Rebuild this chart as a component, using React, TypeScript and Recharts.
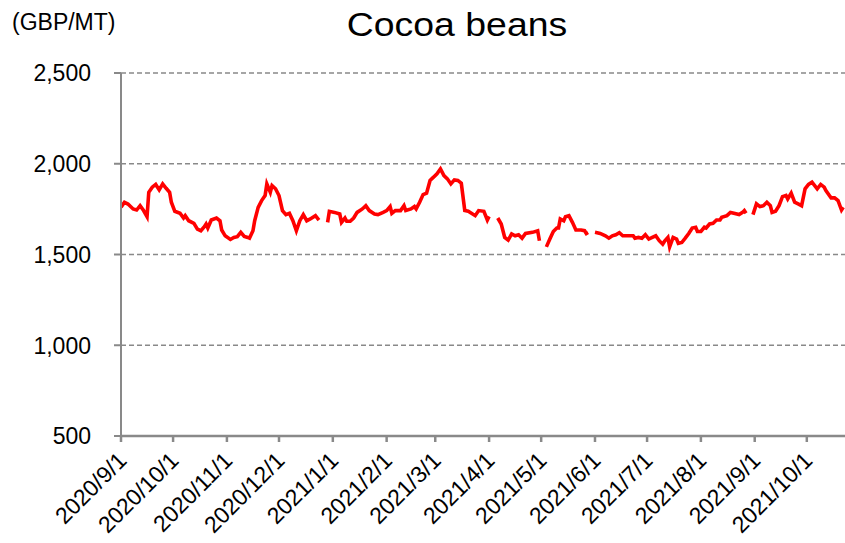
import { CartesianGrid, Line, LineChart, XAxis, YAxis } from "recharts";

const DAY_MS = 86400000;
const START_DATE = "2020-09-01";
const END_DATE = "2021-10-23";

// trading dates (null = holiday gap in the series)
const dates = [
  "2020-09-01", "2020-09-03", "2020-09-05", "2020-09-08", "2020-09-10", "2020-09-12", "2020-09-14", "2020-09-16",
  "2020-09-17", "2020-09-19", "2020-09-21", "2020-09-23", "2020-09-25", "2020-09-27", "2020-09-29", "2020-09-30",
  "2020-10-02", "2020-10-05", "2020-10-07", "2020-10-08", "2020-10-10", "2020-10-13", "2020-10-15", "2020-10-17",
  "2020-10-19", "2020-10-20", "2020-10-21", "2020-10-23", "2020-10-26", "2020-10-28", "2020-10-29", "2020-10-31",
  "2020-11-03", "2020-11-05", "2020-11-07", "2020-11-09", "2020-11-11", "2020-11-13", "2020-11-14", "2020-11-16",
  "2020-11-17", "2020-11-19", "2020-11-21", "2020-11-23", "2020-11-24", "2020-11-26", "2020-11-27", "2020-11-29",
  "2020-12-01", "2020-12-03", "2020-12-05", "2020-12-07", "2020-12-09", "2020-12-11", "2020-12-13", "2020-12-15",
  "2020-12-17", "2020-12-19", "2020-12-22", "2020-12-24", "2020-12-26", "2020-12-29", "2020-12-30", "2021-01-02",
  "2021-01-05", "2021-01-06", "2021-01-08", "2021-01-09", "2021-01-11", "2021-01-13", "2021-01-15", "2021-01-18",
  "2021-01-20", "2021-01-22", "2021-01-25", "2021-01-27", "2021-01-30", "2021-02-01", "2021-02-03", "2021-02-04",
  "2021-02-06", "2021-02-09", "2021-02-11", "2021-02-12", "2021-02-15", "2021-02-17", "2021-02-18", "2021-02-20",
  "2021-02-22", "2021-02-24", "2021-02-26", "2021-02-28", "2021-03-02", "2021-03-04", "2021-03-06", "2021-03-08",
  "2021-03-10", "2021-03-12", "2021-03-14", "2021-03-16", "2021-03-18", "2021-03-20", "2021-03-24", "2021-03-26",
  "2021-03-29", "2021-03-31", "2021-04-01", "2021-04-03", "2021-04-06", "2021-04-08", "2021-04-10", "2021-04-12",
  "2021-04-14", "2021-04-16", "2021-04-18", "2021-04-20", "2021-04-22", "2021-04-26", "2021-04-29", "2021-04-30",
  "2021-05-02", "2021-05-04", "2021-05-06", "2021-05-08", "2021-05-10", "2021-05-11", "2021-05-12", "2021-05-14",
  "2021-05-15", "2021-05-17", "2021-05-19", "2021-05-21", "2021-05-24", "2021-05-26", "2021-05-27", "2021-05-28",
  "2021-05-30", "2021-06-01", "2021-06-04", "2021-06-07", "2021-06-09", "2021-06-11", "2021-06-13", "2021-06-15",
  "2021-06-17", "2021-06-20", "2021-06-23", "2021-06-24", "2021-06-26", "2021-06-28", "2021-06-30", "2021-07-02",
  "2021-07-04", "2021-07-06", "2021-07-08", "2021-07-10", "2021-07-11", "2021-07-13", "2021-07-14", "2021-07-16",
  "2021-07-18", "2021-07-19", "2021-07-21", "2021-07-23", "2021-07-25", "2021-07-27", "2021-07-29", "2021-07-30",
  "2021-08-01", "2021-08-03", "2021-08-04", "2021-08-06", "2021-08-08", "2021-08-10", "2021-08-12", "2021-08-13",
  "2021-08-16", "2021-08-18", "2021-08-20", "2021-08-23", "2021-08-25", "2021-08-26", "2021-08-27", "2021-08-29",
  "2021-08-31", "2021-09-02", "2021-09-04", "2021-09-06", "2021-09-08", "2021-09-10", "2021-09-11", "2021-09-13",
  "2021-09-15", "2021-09-17", "2021-09-19", "2021-09-20", "2021-09-22", "2021-09-24", "2021-09-26", "2021-09-28",
  "2021-09-30", "2021-10-02", "2021-10-04", "2021-10-07", "2021-10-09", "2021-10-11", "2021-10-12", "2021-10-14",
  "2021-10-15", "2021-10-17", "2021-10-19", "2021-10-21", "2021-10-22",
];

// GBP per metric tonne
const prices: (number | null)[] = [
  1760, 1788, 1778, 1751, 1745, 1769, 1742, 1708,
  1843, 1871, 1886, 1856, 1889, 1865, 1843, 1788,
  1738, 1727, 1701, 1714, 1686, 1672, 1640, 1631,
  1653, 1668, 1646, 1690, 1701, 1686, 1635, 1603,
  1583, 1594, 1598, 1622, 1600, 1594, 1590, 1631,
  1686, 1760, 1797, 1825, 1889, 1843, 1880, 1862,
  1825, 1742, 1720, 1727, 1686, 1631, 1686, 1720,
  1686, 1696, 1714, 1690, null, 1677, 1738, 1732,
  1723, 1677, 1701, 1683, 1683, 1701, 1732, 1751,
  1769, 1742, 1723, 1720, 1732, 1742, 1764, 1727,
  1742, 1742, 1769, 1742, 1751, 1764, 1751, 1788,
  1830, 1838, 1908, 1926, 1945, 1972, 1935, 1917,
  1889, 1911, 1908, 1893, 1742, 1738, 1714, 1742,
  1738, 1690, 1710, null, 1701, 1668, 1594, 1579,
  1613, 1603, 1609, 1590, 1616, 1622, 1631, 1576,
  null, 1542, 1585, 1627, 1646, 1646, 1696, 1686,
  1708, 1714, 1677, 1635, 1635, 1631, 1616, 1622,
  null, 1622, 1616, 1603, 1590, 1603, 1609, 1620,
  1603, 1603, 1603, 1590, 1594, 1590, 1609, 1585,
  1594, 1603, 1576, 1557, 1572, 1594, 1542, 1594,
  1585, 1561, 1566, 1590, 1616, 1646, 1650, 1627,
  1627, 1650, 1646, 1668, 1672, 1690, 1690, 1705,
  1714, 1732, 1727, 1720, 1732, 1742, 1727, null,
  1720, 1779, 1764, 1769, 1788, 1769, 1732, 1738,
  1769, 1819, 1825, 1806, 1838, 1788, 1779, 1769,
  1862, 1886, 1899, 1862, 1886, 1871, 1852, 1825,
  1812, 1812, 1797, 1745, 1760,
];

const monthTicks = [
  "2020-09-01", "2020-10-01", "2020-11-01", "2020-12-01", "2021-01-01", "2021-02-01", "2021-03-01",
  "2021-04-01", "2021-05-01", "2021-06-01", "2021-07-01", "2021-08-01", "2021-09-01", "2021-10-01",
];
const priceTicks = [500, 1000, 1500, 2000, 2500];

const dayOf = (s: string) => Math.round((Date.parse(s) - Date.parse(START_DATE)) / DAY_MS);
const tickLabel = (s: string) => {
  const [y, m, d] = s.split("-");
  return `${y}/${Number(m)}/${Number(d)}`;
};

const data = dates.map((d, i) => ({ day: dayOf(d), price: prices[i] }));
const tickDays = monthTicks.map(dayOf);
const labelByDay = new Map(monthTicks.map((s) => [dayOf(s), tickLabel(s)]));

const FONT = "'Liberation Sans', Arial, sans-serif";
const AXIS = "#898989";

function DateTick({ x, y, payload }: any) {
  const ax = x + 7;
  const ay = y + 18;
  return (
    <text x={ax} y={ay} transform={`rotate(-45, ${ax}, ${ay})`} textAnchor="end" fontSize={23} fontFamily={FONT} fill="#000">
      {labelByDay.get(payload.value)}
    </text>
  );
}

function PriceTick({ y, payload }: any) {
  return (
    <text x={91} y={y} dy="0.36em" textAnchor="end" fontSize={23} fontFamily={FONT} fill="#000">
      {payload.value.toLocaleString("en-US")}
    </text>
  );
}

export default function App() {
  return (
    <div style={{ position: "absolute", left: 0, top: 0, width: 845, height: 543, background: "#fff", fontFamily: FONT }}>
      <div style={{ position: "absolute", left: 12, top: 9, fontSize: 23, color: "#000" }}>(GBP/MT)</div>
      <div
        style={{
          position: "absolute",
          left: 0,
          width: 914,
          top: 5,
          textAlign: "center",
          fontSize: 34,
          color: "#000",
          transform: "scaleX(1.1)",
          transformOrigin: "457px 0",
        }}
      >
        Cocoa beans
      </div>
      <LineChart width={845} height={543} data={data} margin={{ top: 73, right: 0, bottom: 0, left: 0 }}>
        <CartesianGrid vertical={false} stroke={AXIS} strokeDasharray="5 3" strokeWidth={1.4} />
        <XAxis
          dataKey="day"
          type="number"
          domain={[0, dayOf(END_DATE)]}
          ticks={tickDays}
          interval={0}
          height={107}
          stroke={AXIS}
          strokeWidth={2.5}
          tickSize={6}
          tick={<DateTick />}
          allowDataOverflow
        />
        <YAxis
          type="number"
          domain={[500, 2500]}
          ticks={priceTicks}
          interval={0}
          width={121}
          stroke={AXIS}
          strokeWidth={2}
          tickSize={7}
          tick={<PriceTick />}
        />
        <Line
          dataKey="price"
          type="linear"
          stroke="#ff0000"
          strokeWidth={3.6}
          dot={false}
          activeDot={false}
          connectNulls={false}
          isAnimationActive={false}
        />
      </LineChart>
    </div>
  );
}
